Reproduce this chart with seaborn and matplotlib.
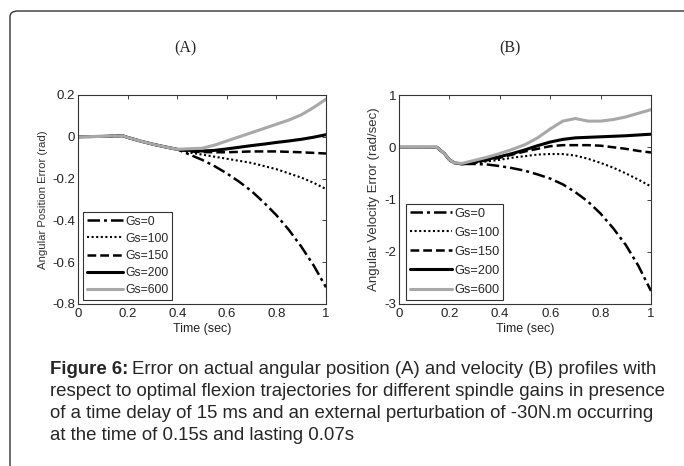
import numpy as np
import pandas as pd
import seaborn as sns
import matplotlib
matplotlib.use("Agg")
import matplotlib.pyplot as plt
from matplotlib.patches import FancyBboxPatch

# ---------------- data ----------------
gains = ["Gs=0", "Gs=100", "Gs=150", "Gs=200", "Gs=600"]

# (A) angular position error
pos_t_common = [0.0, 0.1, 0.18, 0.2, 0.25, 0.3, 0.35, 0.4]
pos_common = [0.0, 0.002, 0.005, -0.003, -0.02, -0.035, -0.048, -0.06]
pos_t_tail = [0.45, 0.5, 0.55, 0.6, 0.65, 0.7, 0.75, 0.8, 0.85, 0.9, 0.95, 1.0]
pos_gs0 = [-0.085, -0.11, -0.14, -0.175, -0.215, -0.26, -0.315, -0.375, -0.445, -0.525, -0.615, -0.72]
pos_gs100 = [-0.075, -0.085, -0.095, -0.105, -0.115, -0.125, -0.14, -0.155, -0.175, -0.195, -0.22, -0.25]
pos_gs150 = [-0.07, -0.073, -0.074, -0.074, -0.072, -0.07, -0.07, -0.07, -0.072, -0.074, -0.077, -0.08]
pos_gs200 = [-0.065, -0.068, -0.065, -0.058, -0.05, -0.042, -0.035, -0.027, -0.02, -0.012, -0.002, 0.01]
pos_gs600 = [-0.057, -0.055, -0.04, -0.02, 0.0, 0.02, 0.04, 0.06, 0.08, 0.105, 0.14, 0.18]

# (B) angular velocity error
vel_t_common = [0.0, 0.1, 0.15, 0.18, 0.2, 0.22]
vel_common = [0.0, 0.0, 0.0, -0.12, -0.24, -0.3]
vel_t_tail = [0.25, 0.3, 0.35, 0.4, 0.45, 0.5, 0.55, 0.6, 0.65, 0.7, 0.75, 0.8, 0.85, 0.9, 0.95, 1.0]
vel_gs0 = [-0.32, -0.32, -0.33, -0.36, -0.4, -0.45, -0.52, -0.6, -0.71, -0.86, -1.04, -1.27, -1.55, -1.87, -2.27, -2.75]
vel_gs100 = [-0.32, -0.3, -0.27, -0.24, -0.2, -0.17, -0.14, -0.13, -0.13, -0.16, -0.22, -0.3, -0.39, -0.5, -0.62, -0.75]
vel_gs150 = [-0.32, -0.29, -0.25, -0.2, -0.14, -0.08, -0.03, 0.02, 0.04, 0.04, 0.04, 0.03, 0.0, -0.03, -0.07, -0.1]
vel_gs200 = [-0.32, -0.28, -0.23, -0.18, -0.12, -0.05, 0.03, 0.1, 0.15, 0.18, 0.19, 0.2, 0.21, 0.22, 0.235, 0.25]
vel_gs600 = [-0.31, -0.25, -0.19, -0.12, -0.04, 0.05, 0.18, 0.35, 0.5, 0.55, 0.5, 0.5, 0.53, 0.58, 0.65, 0.72]

pos_tails = [pos_gs0, pos_gs100, pos_gs150, pos_gs200, pos_gs600]
vel_tails = [vel_gs0, vel_gs100, vel_gs150, vel_gs200, vel_gs600]


def long_frame(t_common, common, t_tail, tails):
    rows = []
    for g, tail in zip(gains, tails):
        for t, v in zip(list(t_common) + list(t_tail), list(common) + list(tail)):
            rows.append((g, t, v))
    return pd.DataFrame(rows, columns=["Gs", "t", "v"])


df_pos = long_frame(pos_t_common, pos_common, pos_t_tail, pos_tails)
df_vel = long_frame(vel_t_common, vel_common, vel_t_tail, vel_tails)

# ---------------- style ----------------
sns.set_style("white")
plt.rcParams["font.family"] = ["Liberation Sans", "DejaVu Sans"]

palette = {"Gs=0": "black", "Gs=100": "black", "Gs=150": "black",
           "Gs=200": "black", "Gs=600": "#a8a8a8"}
dashes = {"Gs=0": (5, 1.6, 1.2, 1.6), "Gs=100": (1, 1.2), "Gs=150": (3.5, 1.6),
          "Gs=200": "", "Gs=600": ""}
widths = {"Gs=0": 1.8, "Gs=100": 1.5, "Gs=150": 1.8, "Gs=200": 2.2, "Gs=600": 2.2}

W, H = 684, 466
fig = plt.figure(figsize=(W / 100, H / 100), dpi=100)


def px_axes(l, t, r, b):
    return fig.add_axes([l / W, 1 - b / H, (r - l) / W, (b - t) / H])


axA = px_axes(78, 95, 326, 304)
axB = px_axes(399, 95, 651, 304)


def draw(ax, df, yticks, ylim, ylabel, ylab_fs, legend_box, leg_fs, leg_sp, leg_hl):
    sns.lineplot(data=df, x="t", y="v", hue="Gs", style="Gs", palette=palette,
                 dashes=dashes, hue_order=gains, style_order=gains,
                 ax=ax, legend=True, estimator=None, sort=False)
    for line, g in zip(ax.get_lines(), gains):
        line.set_linewidth(widths[g])
    ax.set_xlim(0, 1)
    ax.set_ylim(*ylim)
    ax.set_xticks([0, 0.2, 0.4, 0.6, 0.8, 1.0])
    ax.set_xticklabels(["0", "0.2", "0.4", "0.6", "0.8", "1"])
    ax.set_yticks(yticks)
    ax.set_yticklabels([("%g" % v) for v in yticks])
    ax.tick_params(direction="in", length=3, width=0.6, top=True, right=True,
                   labelsize=9.5, colors="#222222", pad=2)
    ax.tick_params(axis="x", pad=3)
    for s in ax.spines.values():
        s.set_color("#333333")
        s.set_linewidth(0.8)
    ax.set_xlabel("Time (sec)", fontsize=9, color="#222222", labelpad=2)
    ax.set_ylabel(ylabel, fontsize=ylab_fs, color="#333333", labelpad=3)
    handles, labels = ax.get_legend_handles_labels()
    for h, g in zip(handles, gains):
        h.set_linewidth(widths[g])
    leg = ax.legend(handles, labels, loc="lower left", bbox_to_anchor=legend_box,
                    frameon=True, fancybox=False, edgecolor="black", fontsize=leg_fs,
                    handlelength=leg_hl, handletextpad=0.15, borderpad=0.3,
                    labelspacing=leg_sp, borderaxespad=0)
    leg.get_frame().set_linewidth(0.8)


draw(axA, df_pos, [0.2, 0, -0.2, -0.4, -0.6, -0.8], (-0.8, 0.2),
     "Angular Position Error (rad)", 8.2, (0.02, 0.02), 8.8, 0.42, 3.0)
draw(axB, df_vel, [1, 0, -1, -2, -3], (-3, 1),
     "Angular Velocity Error (rad/sec)", 9.5, (0.028, 0.02), 9.2, 0.55, 3.3)

# panel titles
fig.text(185 / W, 1 - 48 / H, "(A)", family="Liberation Serif", fontsize=11.5,
         ha="center", va="center")
fig.text(510 / W, 1 - 48 / H, "(B)", family="Liberation Serif", fontsize=11.5,
         ha="center", va="center")

# border
box = FancyBboxPatch((10 / W, -20 / H), (W + 20) / W, (H - 11 + 20) / H,
                     boxstyle="round,pad=0,rounding_size=0.012",
                     transform=fig.transFigure, fill=False,
                     edgecolor="#333333", linewidth=1.0)
fig.patches.append(box)

# caption
cap_fs = 13.4
x0 = 50 / W
ys = [369, 391, 414, 436]
t_bold = fig.text(x0, 1 - ys[0] / H, "Figure 6:", fontsize=cap_fs, weight="bold",
                  ha="left", va="center")
fig.canvas.draw()
bb = t_bold.get_window_extent(renderer=fig.canvas.get_renderer())
fig.text(bb.x1 / W + 4 / W, 1 - ys[0] / H,
         "Error on actual angular position (A) and velocity (B) profiles with",
         fontsize=cap_fs, ha="left", va="center")
lines = ["respect to optimal flexion trajectories for different spindle gains in presence",
         "of a time delay of 15 ms and an external perturbation of -30N.m occurring",
         "at the time of 0.15s and lasting 0.07s"]
for y, s in zip(ys[1:], lines):
    fig.text(x0, 1 - y / H, s, fontsize=cap_fs, ha="left", va="center")

fig.savefig("out.png", dpi=100)
